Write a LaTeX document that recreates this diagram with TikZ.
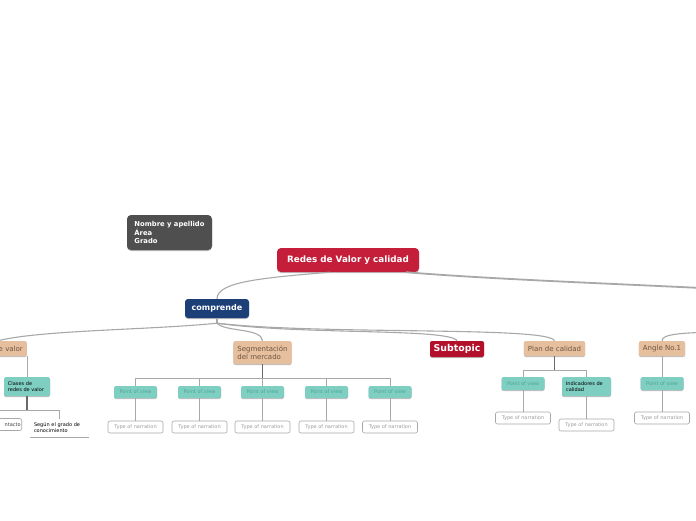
\documentclass[tikz,border=0pt]{standalone}
\usepackage{fontspec}
\setmainfont{DejaVu Sans}
\usetikzlibrary{shadows}
\definecolor{redc}{HTML}{C41E3A}
\definecolor{subc}{HTML}{B3102C}
\definecolor{bluec}{HTML}{1D3F77}
\definecolor{darkc}{HTML}{4F4F4F}
\definecolor{tanc}{HTML}{E6BF9E}
\definecolor{tant}{HTML}{6E5540}
\definecolor{tealc}{HTML}{7FCEC2}
\definecolor{tealt}{HTML}{4EA596}
\definecolor{edgec}{HTML}{A8A8A8}
\definecolor{trunkc}{HTML}{6A6A6A}
\definecolor{narc}{HTML}{9C9C9C}
\newcommand\fsT{\fontsize{8.8}{10}\selectfont}
\newcommand\fsC{\fontsize{8}{9.5}\selectfont}
\newcommand\fsL{\fontsize{9.4}{10.5}\selectfont}
\newcommand\fsN{\fontsize{6.8}{8.5}\selectfont}
\newcommand\fsM{\fontsize{7}{7.8}\selectfont}
\newcommand\fsS{\fontsize{5}{6}\selectfont}

\begin{document}
\begin{tikzpicture}[x=1pt,y=-1pt,
  shade/.style={drop shadow={shadow xshift=0pt,shadow yshift=-1pt,fill=black,opacity=0.25}},
  topic/.style={fill=redc,text=white,font=\fsT\bfseries,rounded corners=4pt,minimum width=142pt,minimum height=24pt,shade},
  note/.style={fill=darkc,text=white,font=\fsN\bfseries,align=left,rounded corners=4pt,minimum width=85pt,minimum height=35pt,shade},
  main/.style={fill=bluec,text=white,font=\fsC\bfseries,rounded corners=3pt,minimum width=64pt,minimum height=19pt,shade},
  branch/.style={fill=tanc,text=tant,font=\fsM,rounded corners=2pt,inner xsep=4pt,inner ysep=2pt,minimum height=15pt,shade},
  sub/.style={fill=subc,text=white,font=\fsL\bfseries,rounded corners=2pt,minimum width=54pt,minimum height=16pt,inner sep=2pt,shade},
  view/.style={fill=tealc,text=tealt,font=\fsS,rounded corners=1.5pt,minimum width=43pt,minimum height=12pt,inner sep=1pt,shade},
  leaf/.style={fill=tealc,text=black,font=\fsS,align=left,rounded corners=1.5pt,inner xsep=4pt,inner ysep=2pt,shade},
  narr/.style={draw=edgec,fill=white,text=narc,font=\fsS,rounded corners=2pt,minimum width=55pt,minimum height=12pt,inner sep=1pt,line width=0.6pt},
  plain/.style={font=\fsS,align=left,inner xsep=4pt,inner ysep=2pt},
  link/.style={edgec,line width=1.1pt},
  wide/.style={edgec,line width=1.8pt},
  trunk/.style={trunkc,line width=1.4pt},
  bus/.style={edgec,line width=0.8pt},
  stem/.style={edgec,line width=0.8pt}]
\useasboundingbox (0,0) rectangle (696,520);
\fill[white] (0,0) rectangle (696,520);
% ============ centre ============
\node[topic] (redes) at (348,260) {Redes de Valor y calidad};
\node[note] (datos) at (169.5,232.5) {Nombre y apellido\\Área\\Grado};
\node[main] (comp) at (217,308.5) {comprende};
\coordinate (offa) at (740,290);
\coordinate (offb) at (740,332);
\draw[link] ([xshift=-18pt]redes.south) .. controls (260,278) and (217,282) .. (comp.north);
\draw[wide] ([xshift=58pt]redes.south) .. controls (500,280) and (650,285) .. (offa);
% ============ branches ============
\node[branch,text width=50pt,align=right,anchor=east] (valor) at (27,348.5) {e valor};
\node[branch,align=left,minimum width=57pt,minimum height=23pt] (seg) at (262.5,352.5) {Segmentación\\del mercado};
\node[sub] (subt) at (457,349) {Subtopic};
\node[branch,minimum width=61pt] (plan) at (554.5,348.5) {Plan de calidad};
\node[branch,minimum width=46pt] (angle) at (662,348.5) {Angle No.1};
\draw[link] (comp.south) -- ++(0,5) coordinate (cstem);
\draw[link] (cstem) .. controls (150,330) and (40,330) .. (valor.north);
\draw[link] (cstem) .. controls (225,332) and (262,328) .. (seg.north);
\draw[link] (cstem) .. controls (300,335) and (450,328) .. (subt.north);
\draw[link] (cstem) .. controls (320,335) and (550,326) .. (plan.north);
\draw[link] (offb) .. controls (680,332) and (662,334) .. (angle.north);
% ============ valor ============
\node[leaf,text width=38pt,minimum height=19pt] (clases) at (27,386.5) {Clases de\\redes de valor};
\draw[stem] (clases.north |- valor.south) -- (clases.north);
\draw[trunk] (clases.south) -- ++(0,14) coordinate (cbus);
\node[narr,text width=40pt,align=right,minimum width=0pt,text=black!75,anchor=east] (cont) at (22,424.5) {ntacto};
\node[plain,text width=51pt,minimum height=18pt] (segun) at (59.5,428) {Según el grado de\\conocimiento};
\draw[edgec,line width=0.6pt] (segun.south west) -- (segun.south east);
\draw[bus] (cbus) -| (segun.north);
\draw[bus] (cbus) -- (cbus -| cont.west);
% ============ segmentacion ============
\draw[trunk] (seg.south) -- ++(0,14) coordinate (segbus);
\foreach \i/\x in {1/135.5,2/199.5,3/262.5,4/326.5,5/390} {
  \node[view] (pv\i) at (\x,392) {Point of view};
  \node[narr] (nr\i) at (\x,427) {Type of narration};
  \draw[bus] (segbus) -| (pv\i.north);
  \draw[stem] (pv\i) -- (nr\i);
}
% ============ plan ============
\draw[trunk] (plan.south) -- ++(0,14) coordinate (planbus);
\node[view,minimum height=13pt] (pv6) at (523,383.5) {Point of view};
\node[leaf,text width=41pt,minimum height=19pt] (indic) at (586.5,386.5) {Indicadores de\\calidad};
\node[narr] (nr6) at (523,418) {Type of narration};
\node[narr] (nr7) at (586.5,425) {Type of narration};
\draw[bus] (planbus) -| (pv6.north);
\draw[bus] (planbus) -| (indic.north);
\draw[stem] (pv6) -- (nr6);
\draw[stem] (indic) -- (nr7);
% ============ angle ============
\node[view,minimum height=13pt] (pv7) at (662,383.5) {Point of view};
\node[narr] (nr8) at (662,418) {Type of narration};
\draw[stem] (angle) -- (pv7);
\draw[stem] (pv7) -- (nr8);
\end{tikzpicture}
\end{document}
